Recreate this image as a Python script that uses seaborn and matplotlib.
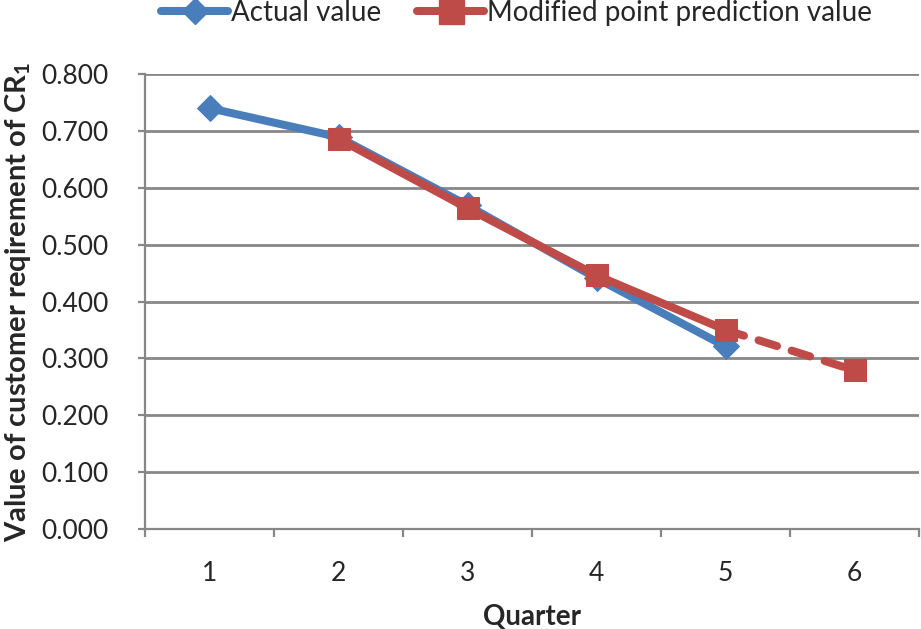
import matplotlib
matplotlib.use("Agg")
import matplotlib.pyplot as plt
import seaborn as sns
import pandas as pd
from matplotlib.lines import Line2D

# ---- data ----
quarters = [1, 2, 3, 4, 5, 6]
actual_quarters = [1, 2, 3, 4, 5]
actual_values = [0.740, 0.689, 0.569, 0.441, 0.321]
pred_quarters = [2, 3, 4, 5]
pred_values = [0.686, 0.564, 0.446, 0.350]
forecast_quarters = [5, 6]
forecast_values = [0.350, 0.279]
y_ticks = [0.0, 0.1, 0.2, 0.3, 0.4, 0.5, 0.6, 0.7, 0.8]
series_names = ["Actual value", "Modified point prediction value"]

BLUE = "#4A7EBB"
RED = "#BE4B48"
GRID = "#878787"

sns.set_style("white")
plt.rcParams["font.family"] = ["Lato", "DejaVu Sans"]
plt.rcParams["mathtext.fontset"] = "custom"
plt.rcParams["mathtext.rm"] = "Lato"
plt.rcParams["mathtext.bf"] = "Lato:bold"

fig = plt.figure(figsize=(9.21, 6.29), dpi=100)
ax = fig.add_axes([145 / 921, 1 - 529 / 629, 774 / 921, 455 / 629])

df_a = pd.DataFrame({"Quarter": actual_quarters, "value": actual_values})
df_p = pd.DataFrame({"Quarter": pred_quarters, "value": pred_values})
df_f = pd.DataFrame({"Quarter": forecast_quarters, "value": forecast_values})

lw = 5.8
sns.lineplot(data=df_a, x="Quarter", y="value", ax=ax, color=BLUE, lw=lw,
             marker="D", markersize=13, markeredgecolor=BLUE, zorder=3)
sns.lineplot(data=df_f, x="Quarter", y="value", ax=ax, color=RED, lw=lw,
             linestyle=(0, (2.4, 1.9)), dash_capstyle="round", zorder=4)
sns.lineplot(data=df_p, x="Quarter", y="value", ax=ax, color=RED, lw=lw,
             marker="s", markersize=16, markeredgecolor=RED, zorder=5)
sns.lineplot(data=df_f.iloc[1:], x="Quarter", y="value", ax=ax, color=RED, lw=0,
             marker="s", markersize=16, markeredgecolor=RED, zorder=5)

ax.set_xlim(0.5, 6.5)
ax.set_ylim(0, 0.8)
ax.set_yticks(y_ticks)
ax.set_yticklabels([f"{v:.3f}" for v in y_ticks])
ax.set_xticks(quarters)
ax.set_xticklabels([str(q) for q in quarters])
ax.set_xticks([q + 0.5 for q in [0] + quarters], minor=True)

ax.grid(axis="y", color=GRID, lw=2, zorder=0)
ax.grid(axis="x", visible=False)
for s in ["top", "right"]:
    ax.spines[s].set_visible(False)
for s in ["left", "bottom"]:
    ax.spines[s].set_color(GRID)
    ax.spines[s].set_linewidth(1.6)

ax.tick_params(axis="y", which="major", direction="out", length=5, width=1.6,
               color=GRID, labelsize=19, pad=21, left=True)
ax.tick_params(axis="x", which="major", length=0, labelsize=19, pad=23)
ax.tick_params(axis="x", which="minor", direction="out", length=6, width=1.6,
               color=GRID, bottom=True)

ax.set_xlabel("Quarter", fontsize=20, fontweight="bold", labelpad=13)
ax.set_ylabel(r"Value of customer reqirement of CR$_\mathbf{1}$", fontsize=21,
              fontweight="bold", labelpad=6)

handles = [
    Line2D([], [], color=BLUE, lw=lw, marker="D", markersize=13),
    Line2D([], [], color=RED, lw=lw, marker="s", markersize=18),
]
ax.legend(handles, series_names, loc="center", bbox_to_anchor=(0.48, 1.135),
          ncol=2, frameon=False, fontsize=20, handlelength=2.4,
          handletextpad=0.1, columnspacing=1.3, borderaxespad=0)

fig.savefig("out.png", dpi=100)
